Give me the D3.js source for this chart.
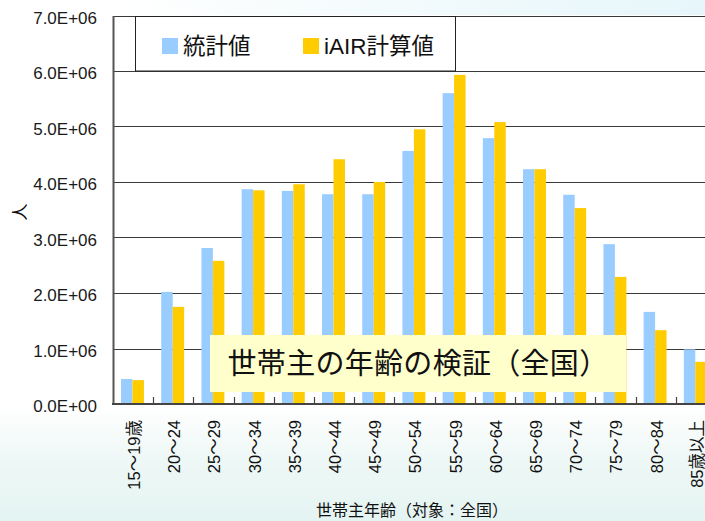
<!DOCTYPE html>
<html>
<head>
<meta charset="utf-8">
<script src="https://cdnjs.cloudflare.com/ajax/libs/d3/7.8.5/d3.min.js"></script>
<style>
  body { margin: 0; background: #fff; }
  svg { display: block; font-family: "Liberation Sans", Arial, "Noto Sans CJK JP", sans-serif; }
</style>
</head>
<body>
<div id="chart"></div>
<script>
// age groups of household heads
var categories = ["15～19歳", "20～24", "25～29", "30～34", "35～39", "40～44", "45～49", "50～54",
  "55～59", "60～64", "65～69", "70～74", "75～79", "80～84", "85歳以上"];
// statistics (blue) and iAIR calculation (yellow)
var statValues = [0.45e6, 2.02e6, 2.81e6, 3.87e6, 3.84e6, 3.78e6, 3.78e6, 4.56e6,
  5.60e6, 4.79e6, 4.23e6, 3.77e6, 2.88e6, 1.66e6, 0.985e6];
var iairValues = [0.43e6, 1.75e6, 2.58e6, 3.85e6, 3.96e6, 4.41e6, 4.00e6, 4.95e6,
  5.93e6, 5.08e6, 4.23e6, 3.53e6, 2.29e6, 1.33e6, 0.76e6];
var seriesNames = ["統計値", "iAIR計算値"];
var yTicks = [0, 1e6, 2e6, 3e6, 4e6, 5e6, 6e6, 7e6];

var colors = ["#99ccff", "#ffcc00"];

var W = 705, H = 521;
// plot area (the right part runs past the window, as in the source picture)
var plot = { left: 113, right: 716, top: 15.5, bottom: 404 };

var svg = d3.select("#chart").append("svg").attr("width", W).attr("height", H);

// faint background wash outside the plot
var defs = svg.append("defs");
var grad = defs.append("linearGradient").attr("id", "bg").attr("x1", 0).attr("y1", 0).attr("x2", 0).attr("y2", 1);
grad.append("stop").attr("offset", "0%").attr("stop-color", "#ffffff");
grad.append("stop").attr("offset", "78%").attr("stop-color", "#ffffff");
grad.append("stop").attr("offset", "88%").attr("stop-color", "#eef8f6");
grad.append("stop").attr("offset", "100%").attr("stop-color", "#e4f4f2");
svg.append("rect").attr("width", W).attr("height", H).attr("fill", "url(#bg)");
var gradTop = defs.append("linearGradient").attr("id", "bgTop").attr("x1", 0).attr("y1", 0).attr("x2", 1).attr("y2", 0);
gradTop.append("stop").attr("offset", "0%").attr("stop-color", "#ffffff");
gradTop.append("stop").attr("offset", "100%").attr("stop-color", "#e6f6fa");
svg.append("rect").attr("x", 113).attr("y", 0).attr("width", W - 113).attr("height", 15).attr("fill", "url(#bgTop)");

// plot area
svg.append("rect").attr("x", plot.left).attr("y", plot.top)
  .attr("width", plot.right - plot.left).attr("height", plot.bottom - plot.top).attr("fill", "#fff");

var x = d3.scaleBand().domain(categories).range([plot.left, plot.right]);
var bw = x.bandwidth();
var x1 = d3.scaleBand().domain(seriesNames).range([bw * 0.2, bw * 0.77]);
var y = d3.scaleLinear().domain([0, 7e6]).range([plot.bottom, plot.top]);

function sciFormat(v) {
  var e = v === 0 ? 0 : Math.floor(Math.log10(v));
  var m = v / Math.pow(10, e);
  return m.toFixed(1) + "E+" + (e < 10 ? "0" : "") + e;
}

// gridlines
svg.append("g").selectAll("line").data(yTicks.slice(1)).enter().append("line")
  .attr("x1", plot.left).attr("x2", plot.right)
  .attr("y1", function (d) { return Math.round(y(d)) + 0.5; })
  .attr("y2", function (d) { return Math.round(y(d)) + 0.5; })
  .attr("stroke", "#3a3a3a").attr("stroke-width", 1.2);

// bars
var rows = categories.map(function (c, i) { return { cat: c, vals: [statValues[i], iairValues[i]] }; });
var groups = svg.append("g").selectAll("g").data(rows).enter().append("g")
  .attr("transform", function (d) { return "translate(" + x(d.cat) + ",0)"; });
groups.selectAll("rect").data(function (d) {
  return d.vals.map(function (v, k) { return { key: seriesNames[k], v: v, k: k }; });
}).enter().append("rect")
  .attr("x", function (d) { return x1(d.key); })
  .attr("width", x1.bandwidth())
  .attr("y", function (d) { return y(d.v); })
  .attr("height", function (d) { return plot.bottom - y(d.v); })
  .attr("fill", function (d) { return colors[d.k]; });

// y axis
var yAxis = d3.axisLeft(y).tickValues(yTicks).tickFormat(sciFormat).tickSize(0).tickPadding(16);
var yG = svg.append("g").attr("transform", "translate(" + plot.left + ",0)").call(yAxis);
yG.select(".domain").attr("stroke", "#555").attr("stroke-width", 2);
yG.selectAll("text").style("font-size", "17px").attr("fill", "#1a1a1a").attr("dy", "0.45em");

// x axis line and inner ticks at band edges
svg.append("line").attr("x1", plot.left - 1).attr("x2", plot.right).attr("y1", plot.bottom).attr("y2", plot.bottom)
  .attr("stroke", "#444").attr("stroke-width", 2);
svg.append("g").selectAll("line").data(categories.slice(1)).enter().append("line")
  .attr("x1", function (d) { return Math.round(x(d)) + 0.5; })
  .attr("x2", function (d) { return Math.round(x(d)) + 0.5; })
  .attr("y1", plot.bottom - 7).attr("y2", plot.bottom)
  .attr("stroke", "#444").attr("stroke-width", 1.2);

// x tick labels (vertical)
svg.append("g").selectAll("text").data(categories).enter().append("text")
  .attr("transform", function (d) { return "translate(" + (x(d) + bw / 2 + 1) + ",420) rotate(-90)"; })
  .attr("text-anchor", "end").attr("dy", "0.36em")
  .style("font-size", "16.5px").attr("fill", "#111")
  .text(function (d) { return d; });

// axis titles
svg.append("text").attr("transform", "translate(20,212) rotate(-90)")
  .attr("text-anchor", "middle").attr("dy", "0.36em")
  .style("font-size", "17px").attr("fill", "#111").text("人");
svg.append("text").attr("x", 412).attr("y", 516)
  .attr("text-anchor", "middle")
  .style("font-size", "16px").attr("fill", "#111")
  .text("世帯主年齢（対象：全国）");

// legend
var legend = svg.append("g");
legend.append("rect").attr("x", 135.5).attr("y", 16.5).attr("width", 320).attr("height", 54.5)
  .attr("fill", "#fff").attr("stroke", "#222").attr("stroke-width", 1);
var legX = [162, 303];
var legItems = legend.selectAll("g").data(seriesNames).enter().append("g")
  .attr("transform", function (d, i) { return "translate(" + legX[i] + ",38)"; });
legItems.append("rect").attr("width", 16).attr("height", 16)
  .attr("fill", function (d, i) { return colors[i]; });
legItems.append("text").attr("x", 21).attr("y", 8).attr("dy", "0.36em")
  .style("font-size", "22.5px").attr("fill", "#111")
  .text(function (d) { return d; });

// annotation box
svg.append("rect").attr("x", 210).attr("y", 335).attr("width", 416).attr("height", 57).attr("fill", "#ffffcc");
svg.append("text").attr("x", 418).attr("y", 364).attr("dy", "0.36em")
  .attr("text-anchor", "middle")
  .style("font-size", "29px").attr("letter-spacing", "0.3px").attr("fill", "#111")
  .text("世帯主の年齢の検証（全国）");
</script>
</body>
</html>
